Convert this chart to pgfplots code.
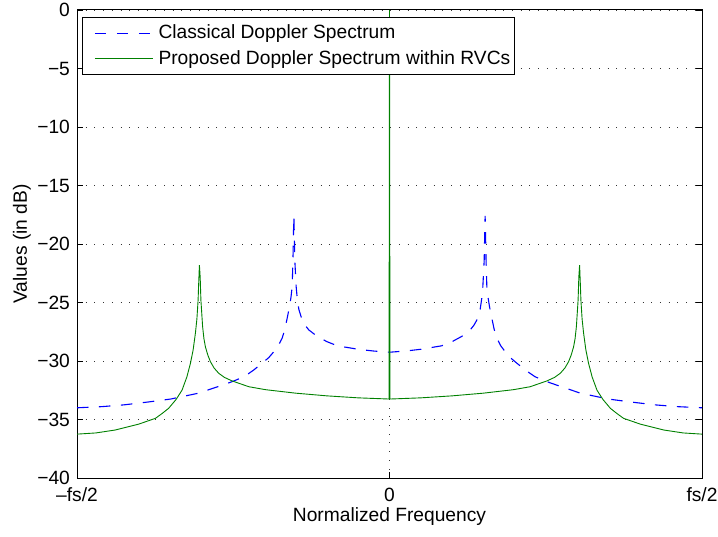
\documentclass[border=0pt]{standalone}
\usepackage{fontspec}
\setmainfont{Liberation Sans}
\usepackage{pgfplots}
\pgfplotsset{compat=1.18}
\definecolor{mblue}{rgb}{0,0,1}
\definecolor{mgreen}{rgb}{0,0.5,0}
\begin{document}
\fontsize{19.2pt}{23pt}\selectfont
\begin{tikzpicture}[x=1pt,y=1pt]
\path[use as bounding box] (0,0) rectangle (718,536);
\begin{axis}[
  at={(77pt,58pt)}, anchor=south west,
  scale only axis, width=625pt, height=468pt,
  xmin=-1, xmax=1, ymin=-40, ymax=0,
  xtick={-1,0,1}, xticklabels={–fs/2,0,fs/2},
  ytick={-40,-35,...,0}, yticklabels={−40,−35,−30,−25,−20,−15,−10,−5,0},
  tick align=inside, major tick length=6pt,
  every tick/.style={black, line width=0.8pt},
  xmajorgrids, ymajorgrids,
  grid style={black!80, line width=0.8pt, dash pattern=on 0.8pt off 7.9pt},
  axis line style={line width=1pt},
  xticklabel style={anchor=base, yshift=-23.6pt},
  yticklabel style={xshift=-0.5pt},
  xlabel={Normalized Frequency},
  ylabel={Values (in dB)},
  xlabel style={at={(axis description cs:0.5,-0.0833)}, anchor=center},
  ylabel style={at={(axis description cs:-0.088,0.5)}, anchor=center},
  legend cell align=left,
  legend image code/.code={\path (0pt,0pt); \draw[#1] (7.7pt,0pt) -- (65.7pt,0pt);},
  legend style={at={(0,1)}, anchor=north west, xshift=5.3pt, yshift=-7.3pt,
    draw=black, line width=0.8pt, inner xsep=4pt, inner ysep=7pt,
    nodes={inner xsep=0pt, inner ysep=0pt}, column sep=5pt, row sep=8.7pt},
]
\addplot[mblue, line width=1.1pt, dash pattern=on 11.5pt off 10.5pt] coordinates {
(-1.0,-34.0) (-0.92,-33.9) (-0.85,-33.75) (-0.771,-33.5) (-0.7,-33.25) (-0.611,-32.75)
(-0.55,-32.2) (-0.504,-31.77) (-0.466,-31.35) (-0.436,-30.8) (-0.408,-30.2) (-0.386,-29.7)
(-0.37,-29.2) (-0.356,-28.7) (-0.3435,-28.05) (-0.335,-27.3) (-0.3275,-26.35)
(-0.32,-25.35) (-0.3155,-24.6) (-0.3115,-23.65) (-0.309,-21.4)
(-0.307,-18.7) (-0.306,-17.6) (-0.305,-18.7) (-0.303,-21.4) (-0.2987,-23.65)
(-0.295,-24.7) (-0.29,-25.6) (-0.2795,-26.5) (-0.27,-26.95) (-0.258,-27.35)
(-0.231,-27.9) (-0.2,-28.35) (-0.167,-28.7) (-0.1,-29.0) (-0.05,-29.15) (0,-29.25)
(0.05,-29.15) (0.1,-29.0) (0.167,-28.7) (0.2,-28.35) (0.231,-27.9) (0.258,-27.35)
(0.27,-26.95) (0.2795,-26.5) (0.29,-25.6) (0.295,-24.7) (0.2987,-23.65) (0.303,-21.4)
(0.305,-18.7) (0.306,-17.6) (0.307,-18.7) (0.309,-21.4) (0.3115,-23.65) (0.3155,-24.6)
(0.32,-25.35) (0.3275,-26.35) (0.335,-27.3) (0.3435,-28.05) (0.356,-28.7) (0.37,-29.2)
(0.386,-29.7) (0.408,-30.2) (0.436,-30.8) (0.466,-31.35) (0.504,-31.77) (0.55,-32.2)
(0.611,-32.75) (0.7,-33.25) (0.771,-33.5) (0.85,-33.75) (0.92,-33.9) (1.0,-34.0)
};
\addlegendentry{Classical Doppler Spectrum}
\addplot[mgreen, line width=0.9pt] coordinates {
(-1.0,-36.25) (-0.94,-36.15) (-0.878,-35.9) (-0.803,-35.4) (-0.749,-34.9)
(-0.7283,-34.5) (-0.707,-34.05) (-0.6833,-33.3) (-0.664,-32.5) (-0.6483,-31.35)
(-0.637,-30.2) (-0.6283,-29.04) (-0.621,-27.6) (-0.6163,-26.4) (-0.6125,-24.8)
(-0.6108,-23.5) (-0.6083,-21.8) (-0.6058,-22.85) (-0.6035,-24.8) (-0.598,-27.07)
(-0.5938,-28.1) (-0.589,-28.8) (-0.5813,-29.5) (-0.573,-30.06) (-0.5613,-30.6)
(-0.5465,-31.05) (-0.5283,-31.4) (-0.504,-31.7) (-0.45,-32.2)
(-0.397,-32.45) (-0.3,-32.75) (-0.2,-32.98) (-0.1,-33.15) (-0.0015,-33.25)
(0,0)
(0.0015,-33.25) (0.1,-33.15) (0.2,-32.98) (0.3,-32.75) (0.397,-32.45) (0.45,-32.2)
(0.504,-31.7) (0.5283,-31.4) (0.5465,-31.05) (0.5613,-30.6) (0.573,-30.06)
(0.5813,-29.5) (0.589,-28.8) (0.5938,-28.1) (0.598,-27.07) (0.6035,-24.8)
(0.6058,-22.85) (0.6083,-21.8) (0.6108,-23.5) (0.6125,-24.8) (0.6163,-26.4)
(0.621,-27.6) (0.6283,-29.04) (0.637,-30.2) (0.6483,-31.35) (0.664,-32.5)
(0.6833,-33.3) (0.707,-34.05) (0.7283,-34.5) (0.749,-34.9)
(0.803,-35.4) (0.878,-35.9) (0.94,-36.15) (1.0,-36.25)
};
\addlegendentry{Proposed Doppler Spectrum within RVCs}
\end{axis}
\end{tikzpicture}
\end{document}
